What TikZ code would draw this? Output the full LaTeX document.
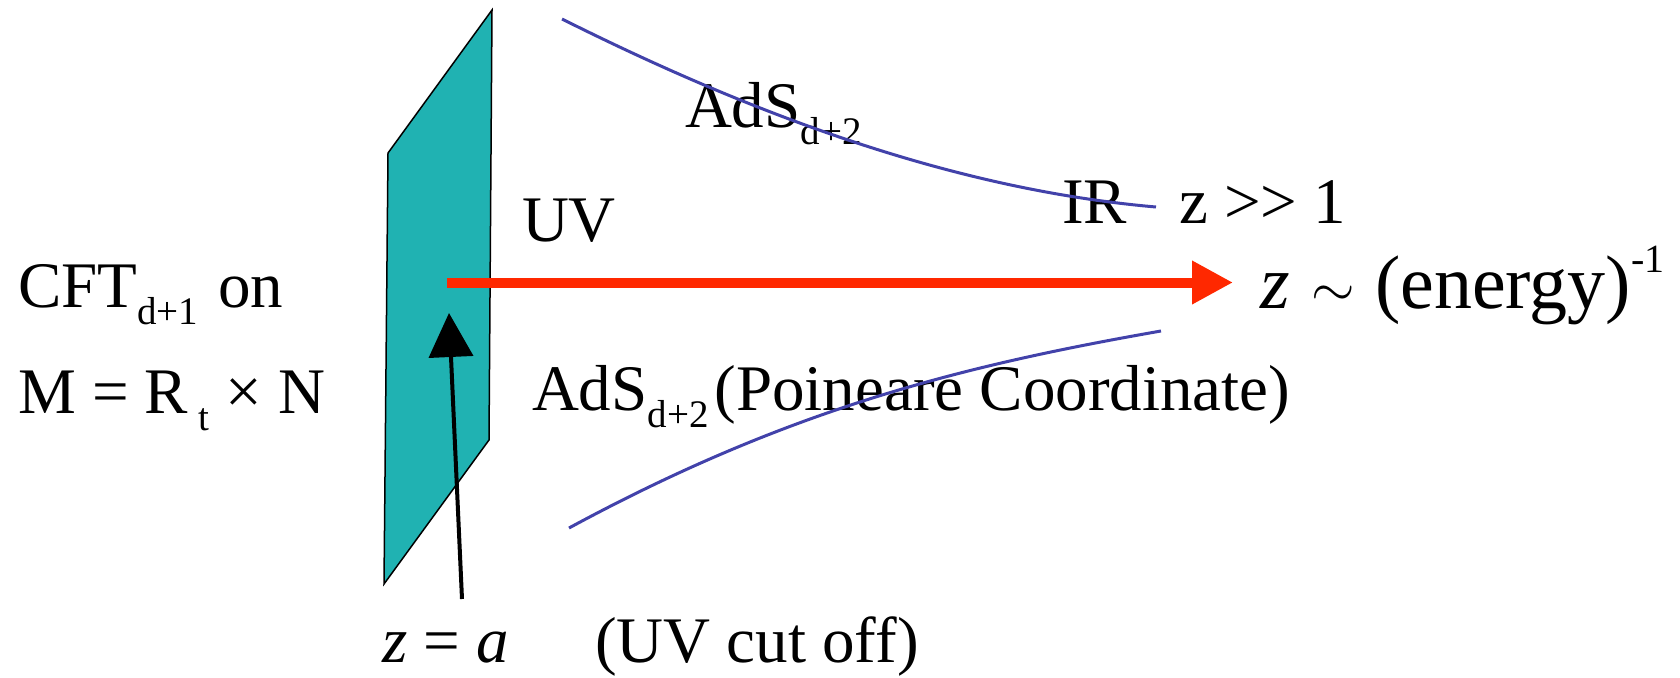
\documentclass[tikz,border=0pt]{standalone}
\usepackage{graphicx}
\usepackage{fontspec}
\setmainfont{Liberation Serif}
\usetikzlibrary{arrows.meta}

\definecolor{sheet}{RGB}{32,178,178}
\definecolor{curveblue}{RGB}{66,66,170}
\definecolor{axisred}{RGB}{255,40,0}

% lowered / raised indices in the style of slide text
\newcommand{\lowidx}[1]{\raisebox{-17pt}{\fontsize{39}{40}\selectfont #1}}
\newcommand{\highidx}[1]{\raisebox{36pt}{\fontsize{40}{40}\selectfont #1}}
% wide tilde ("of the order of")
\newcommand{\ordertilde}{\raisebox{2pt}{\scalebox{5.6}{\normalsize$\sim$}}}

\begin{document}
\begin{tikzpicture}[x=1pt,y=-1pt,
  lbl/.style={anchor=base west, inner sep=0pt, outer sep=0pt, font=\fontsize{65}{70}\selectfont},
  biglbl/.style={lbl, font=\fontsize{76}{80}\selectfont},
  boundary/.style={draw=curveblue, line width=3pt},
  zaxis/.style={draw=axisred, line width=10pt, -{Triangle[length=41pt,width=41pt]}},
  cutoff/.style={draw=black, line width=4pt, -{Triangle[length=44pt,width=44pt]}}]

\useasboundingbox (0,0) rectangle (1680,677);

% boundary sheet
\filldraw[fill=sheet, draw=black, line width=1.5pt]
  (492,10) -- (388,153) -- (384,584) -- (489,440) -- cycle;

% labels
\node[lbl] (cft) at (18,307) {CFT\lowidx{d+1}\hspace{20pt}on};
\node[lbl] (mfd) at (18,413) {M = R\lowidx{ t} × N};
\node[lbl] (uv) at (522,241) {UV};
\node[lbl] (adsup) at (685,127) {AdS\lowidx{d+2}};
\node[lbl] (ir) at (1062,223) {IR};
\node[lbl] (zbig) at (1179,223) {z >\kern0pt> 1};
\node[biglbl] (energy) at (1260,308) {\textit{z}\hspace{22pt}\ordertilde\hspace{20pt}(energy)\highidx{-1}};
\node[lbl] (adslow) at (532,410) {AdS\lowidx{d+2}\hspace{6pt}(Poineare Coordinate)};
\node[lbl] (za) at (382,662) {\textit{z} = \textit{a}};
\node[lbl] (cut) at (595,662) {(UV cut off)};

% AdS boundary curves
\draw[boundary] (562,19) .. controls (762,119) and (960,190) .. (1156,207);
\draw[boundary] (569,528) .. controls (789,409) and (961,366) .. (1161,331);

% radial direction z
\coordinate (zstart) at (447,282.5);
\coordinate (ztip) at (1233,282.5);
\draw[zaxis] (zstart) -- (ztip);

% cut-off pointer
\coordinate (cutfoot) at (462,599);
\coordinate (cuttip) at (449,313);
\draw[cutoff] (cutfoot) -- (cuttip);

\end{tikzpicture}
\end{document}
